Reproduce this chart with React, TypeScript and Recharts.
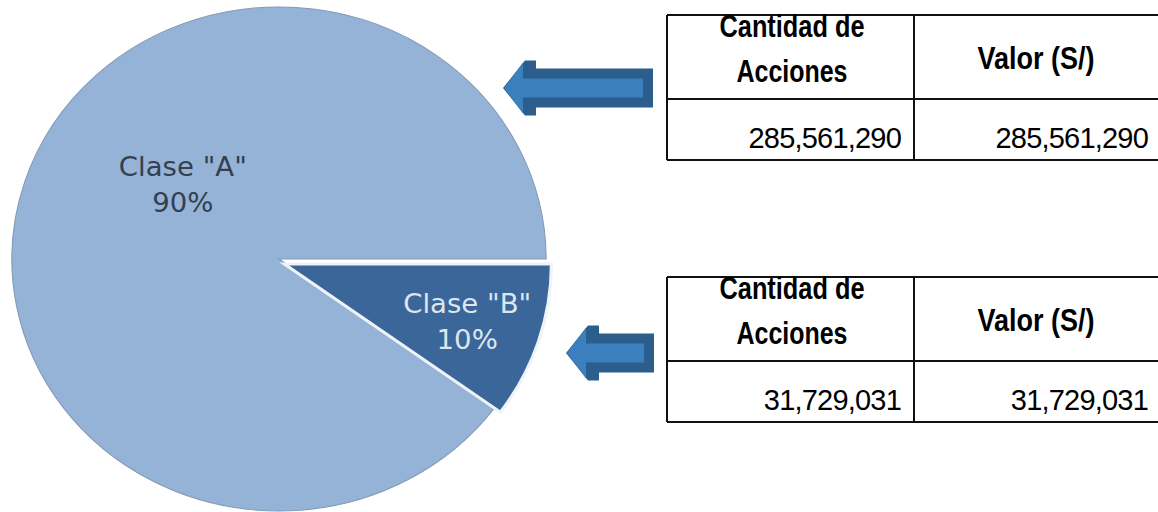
import React from 'react';
import { PieChart, Pie, Cell } from 'recharts';

// share classes and their weight in the capital
const classNames = ['Clase "A"', 'Clase "B"'];
const classShares = [90, 10];
const sharesCount = [285561290, 31729031];
const sharesValue = [285561290, 31729031];
const headerLines = ['Cantidad de', 'Acciones'];
const valueHeader = 'Valor (S/)';

const pieData = classNames.map((name, i) => ({ name, value: classShares[i] }));

const fmt = (n: number) => n.toLocaleString('en-US');

const PIE = { cx: 279, cy: 259, r: 252, stretch: 1.06 };
const EXPLODE = { dx: 5, dy: 5 };
const SLICE_COLORS = ['#95b3d7', '#3a6699'];
const SLICE_STROKES = ['#8299b6', '#eef3f8'];
const LABEL_PLACE = [
  { angle: 140, radius: 0.47, color: '#343f4f' },
  { angle: null as number | null, radius: 0.72, color: '#dde5ef' },
];
const RADIAN = Math.PI / 180;

const makeLabel = (showIndex: number) => (props: any) => {
  const { cx, cy, midAngle, outerRadius, index, name, value } = props;
  if (index !== showIndex) return null;
  const place = LABEL_PLACE[index];
  const angle = place.angle ?? midAngle;
  const rr = outerRadius * place.radius;
  const x = cx + rr * Math.cos(-angle * RADIAN);
  const y = cy + rr * Math.sin(-angle * RADIAN);
  return (
    <text
      x={x}
      y={y}
      textAnchor="middle"
      fill={place.color}
      fontFamily="'DejaVu Sans', sans-serif"
      fontSize={26}
    >
      <tspan x={x} y={y - 7}>{name}</tspan>
      <tspan x={x} y={y + 29}>{`${value}%`}</tspan>
    </text>
  );
};

const Arrow = ({ tipX, cy, endX }: { tipX: number; cy: number; endX: number }) => {
  const headLight = tipX + 22;
  const headDark = tipX + 33;
  const headHalf = 27.5;
  const shaftHalf = 19.5;
  const innerHalf = 9.5;
  const outer = [
    [tipX, cy],
    [headLight, cy - headHalf],
    [headDark, cy - headHalf],
    [headDark, cy - shaftHalf],
    [endX, cy - shaftHalf],
    [endX, cy + shaftHalf],
    [headDark, cy + shaftHalf],
    [headDark, cy + headHalf],
    [headLight, cy + headHalf],
  ];
  const inner = [
    [tipX + 1, cy],
    [headLight - 2, cy - headHalf + 2],
    [headLight - 2, cy - innerHalf],
    [endX - 10, cy - innerHalf],
    [endX - 10, cy + innerHalf],
    [headLight - 2, cy + innerHalf],
    [headLight - 2, cy + headHalf - 2],
  ];
  const pts = (p: number[][]) => p.map((q) => q.join(',')).join(' ');
  return (
    <g>
      <polygon points={pts(outer)} fill="#2b5e8c" />
      <polygon points={pts(inner)} fill="#3b7fbe" />
    </g>
  );
};

const SharesTable = ({ top, count, value }: { top: number; count: number; value: number }) => {
  const left = 667;
  const divider = 914;
  const right = 1160;
  const mid = top + 84;
  const bottom = top + 145;
  const font = "'Liberation Sans', Arial, sans-serif";
  const line = { stroke: '#111', strokeWidth: 2 };
  return (
    <g fontFamily={font} fill="#000">
      <line x1={left} y1={top} x2={right} y2={top} {...line} />
      <line x1={left} y1={mid} x2={right} y2={mid} {...line} />
      <line x1={left} y1={bottom} x2={right} y2={bottom} {...line} />
      <line x1={left} y1={top} x2={left} y2={bottom} {...line} />
      <line x1={divider} y1={top} x2={divider} y2={bottom} {...line} />
      <text x={792} y={top + 22} textAnchor="middle" fontSize={31} fontWeight="bold"
        textLength={145} lengthAdjust="spacingAndGlyphs">{headerLines[0]}</text>
      <text x={792} y={top + 67} textAnchor="middle" fontSize={31} fontWeight="bold"
        textLength={111} lengthAdjust="spacingAndGlyphs">{headerLines[1]}</text>
      <text x={1036} y={top + 54} textAnchor="middle" fontSize={32} fontWeight="bold"
        textLength={117} lengthAdjust="spacingAndGlyphs">{valueHeader}</text>
      <text x={901} y={top + 133} textAnchor="end" fontSize={29} letterSpacing={-0.8}>{fmt(count)}</text>
      <text x={1148} y={top + 133} textAnchor="end" fontSize={29} letterSpacing={-0.8}>{fmt(value)}</text>
    </g>
  );
};

export default function App() {
  return (
    <div style={{ position: 'absolute', left: 0, top: 0, width: 1158, height: 512, background: '#fff' }}>
      <div
        style={{
          position: 'absolute',
          left: 0,
          top: 0,
          transform: `scaleX(${PIE.stretch})`,
          transformOrigin: `${PIE.cx}px ${PIE.cy}px`,
        }}
      >
        <PieChart width={560} height={512} margin={{ top: 0, right: 0, bottom: 0, left: 0 }}>
          <Pie
            data={pieData}
            dataKey="value"
            nameKey="name"
            cx={PIE.cx}
            cy={PIE.cy}
            outerRadius={PIE.r}
            startAngle={0}
            endAngle={360}
            isAnimationActive={false}
            labelLine={false}
            label={makeLabel(0)}
          >
            {pieData.map((d, i) => (
              <Cell
                key={d.name}
                fill={i === 0 ? SLICE_COLORS[0] : 'none'}
                stroke={i === 0 ? SLICE_STROKES[0] : 'none'}
                strokeWidth={1}
              />
            ))}
          </Pie>
          <Pie
            data={pieData}
            dataKey="value"
            nameKey="name"
            cx={PIE.cx + EXPLODE.dx}
            cy={PIE.cy + EXPLODE.dy}
            outerRadius={PIE.r}
            startAngle={0}
            endAngle={360}
            isAnimationActive={false}
            labelLine={false}
            label={makeLabel(1)}
          >
            {pieData.map((d, i) => (
              <Cell
                key={d.name}
                fill={i === 1 ? SLICE_COLORS[1] : 'none'}
                stroke={i === 1 ? SLICE_STROKES[1] : 'none'}
                strokeWidth={3}
              />
            ))}
          </Pie>
        </PieChart>
      </div>
      <svg width={1158} height={512} style={{ position: 'absolute', left: 0, top: 0 }}>
        <Arrow tipX={503} cy={88} endX={653} />
        <Arrow tipX={566} cy={353} endX={654} />
        <SharesTable top={15} count={sharesCount[0]} value={sharesValue[0]} />
        <SharesTable top={277} count={sharesCount[1]} value={sharesValue[1]} />
      </svg>
    </div>
  );
}
